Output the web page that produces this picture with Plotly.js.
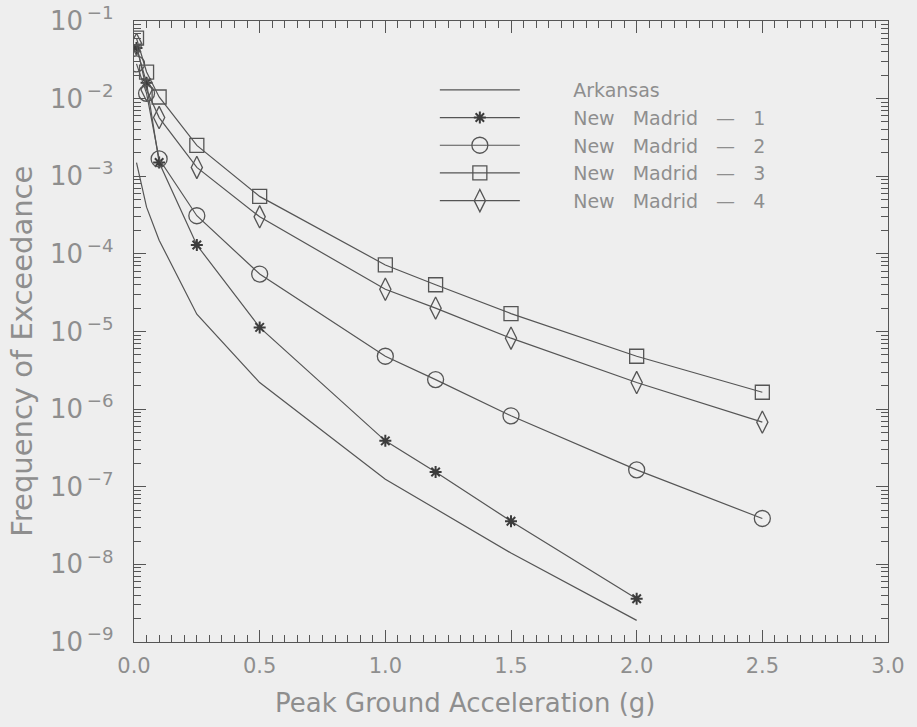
<!DOCTYPE html>
<html>
<head>
<meta charset="utf-8">
<script src="https://cdn.plot.ly/plotly-3.0.1.min.js"></script>
<style>html,body{margin:0;padding:0;background:#eeeeee;}#chart{width:917px;height:727px;}</style>
</head>
<body>
<div id="chart"></div>
<script>
// Peak ground acceleration (g) and annual frequency of exceedance
const xArkansas = [0.01, 0.05, 0.1, 0.25, 0.5, 1.0, 1.5, 2.0];
const yArkansas = [1.5e-3, 4.0e-4, 1.5e-4, 1.67e-5, 2.2e-6, 1.25e-7, 1.4e-8, 1.9e-9];

const xNM1 = [0.01, 0.05, 0.1, 0.25, 0.5, 1.0, 1.2, 1.5, 2.0];
const yNM1 = [4.5e-2, 1.6e-2, 1.5e-3, 1.3e-4, 1.13e-5, 3.9e-7, 1.55e-7, 3.6e-8, 3.6e-9];

const xNM2 = [0.01, 0.05, 0.1, 0.25, 0.5, 1.0, 1.2, 1.5, 2.0, 2.5];
const yNM2 = [2.8e-2, 1.17e-2, 1.67e-3, 3.1e-4, 5.5e-5, 4.8e-6, 2.4e-6, 8.2e-7, 1.65e-7, 3.9e-8];

const xNM3 = [0.01, 0.05, 0.1, 0.25, 0.5, 1.0, 1.2, 1.5, 2.0, 2.5];
const yNM3 = [6.0e-2, 2.2e-2, 1.05e-2, 2.5e-3, 5.5e-4, 7.2e-5, 4.0e-5, 1.7e-5, 4.8e-6, 1.65e-6];

const xNM4 = [0.01, 0.05, 0.1, 0.25, 0.5, 1.0, 1.2, 1.5, 2.0, 2.5];
const yNM4 = [5.0e-2, 1.3e-2, 5.7e-3, 1.3e-3, 3.0e-4, 3.5e-5, 2.0e-5, 8.2e-6, 2.2e-6, 6.8e-7];

const seriesNames = ["Arkansas", "New Madrid — 1", "New Madrid — 2", "New Madrid — 3", "New Madrid — 4"];

const xTickVals = [0, 0.5, 1.0, 1.5, 2.0, 2.5, 3.0];
const xTickText = ["0.0", "0.5", "1.0", "1.5", "2.0", "2.5", "3.0"];
const yExponents = [-9, -8, -7, -6, -5, -4, -3, -2, -1];

const xTitle = "Peak Ground Acceleration (g)";
const yTitle = "Frequency of Exceedance";

const lineColor = "#555555";
const textColor = "#8e8e8e";
const fontFam = "DejaVu Sans, sans-serif";
const pad = "\u00a0".repeat(8);
const spaced = s => s.replace(/ /g, "\u00a0\u00a0\u00a0");

const traces = [
  {x: xArkansas, y: yArkansas, name: pad + spaced(seriesNames[0]), mode: "lines",
   line: {color: lineColor, width: 1.2}},
  {x: xNM1, y: yNM1, name: pad + spaced(seriesNames[1]), mode: "lines+markers",
   line: {color: lineColor, width: 1.2},
   marker: {symbol: "asterisk-open", size: 10, color: "#3c3c3c", line: {color: "#3c3c3c", width: 2}}},
  {x: xNM2, y: yNM2, name: pad + spaced(seriesNames[2]), mode: "lines+markers",
   line: {color: lineColor, width: 1.2},
   marker: {symbol: "circle-open", size: 16, color: lineColor, line: {color: lineColor, width: 1.3}}},
  {x: xNM3, y: yNM3, name: pad + spaced(seriesNames[3]), mode: "lines+markers",
   line: {color: lineColor, width: 1.2},
   marker: {symbol: "square-open", size: 14, color: lineColor, line: {color: lineColor, width: 1.3}}},
  {x: xNM4, y: yNM4, name: pad + spaced(seriesNames[4]), mode: "lines+markers",
   line: {color: lineColor, width: 1.2},
   marker: {symbol: "diamond-tall-open", size: 16, color: lineColor, line: {color: lineColor, width: 1.3}}}
];

const layout = {
  width: 917, height: 727,
  paper_bgcolor: "#eeeeee", plot_bgcolor: "#eeeeee",
  margin: {l: 134, r: 29, t: 21, b: 85},
  font: {family: fontFam, color: textColor},
  showlegend: true,
  legend: {x: 0.399, y: 0.9195, xanchor: "left", yanchor: "top",
           bgcolor: "rgba(0,0,0,0)", font: {size: 19, color: textColor, family: fontFam},
           itemwidth: 80, tracegroupgap: 0},
  xaxis: {
    range: [0, 3], tickmode: "array", tickvals: xTickVals, ticktext: xTickText,
    showgrid: false, zeroline: false, showline: true, linecolor: lineColor, linewidth: 1.3,
    mirror: "ticks", ticks: "inside", ticklen: 12, tickcolor: lineColor,
    minor: {dtick: 0.05, tick0: 0, ticks: "inside", ticklen: 7, tickcolor: lineColor},
    tickfont: {size: 21, color: textColor}, ticklabelstandoff: 4
  },
  yaxis: {
    type: "log", range: [-9, -1], tickmode: "array",
    tickvals: yExponents.map(e => Math.pow(10, e)),
    ticktext: yExponents.map(e => "10<sup>\u2009\u2212" + Math.abs(e) + "</sup>"),
    showgrid: false, zeroline: false, showline: true, linecolor: lineColor, linewidth: 1.3,
    mirror: "ticks", ticks: "inside", ticklen: 12, tickcolor: lineColor,
    minor: {dtick: "D1", ticks: "inside", ticklen: 7, tickcolor: lineColor},
    tickfont: {size: 26, color: textColor}, ticklabelstandoff: 14
  },
  annotations: [
    {text: xTitle, xref: "paper", yref: "paper", x: 0.439, y: -0.098, xanchor: "center", yanchor: "middle",
     showarrow: false, font: {size: 26, color: textColor, family: fontFam}},
    {text: yTitle, xref: "paper", yref: "paper", x: -0.148, y: 0.468, xanchor: "center", yanchor: "middle",
     textangle: -90, showarrow: false, font: {size: 29, color: textColor, family: fontFam}}
  ]
};

Plotly.newPlot("chart", traces, layout, {displayModeBar: false, staticPlot: true});
</script>
</body>
</html>
